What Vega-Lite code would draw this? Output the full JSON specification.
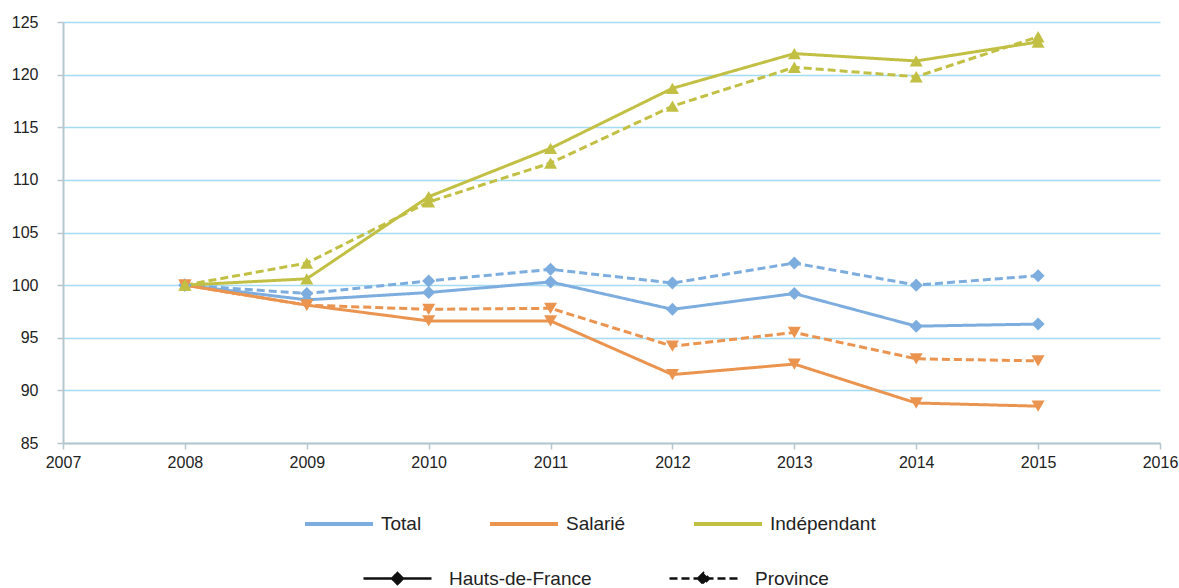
{
  "$schema": "https://vega.github.io/schema/vega-lite/v6.json",
  "width": 1097,
  "height": 421,
  "autosize": {"type": "none"},
  "padding": {"left": 63, "top": 22, "right": 19, "bottom": 145},
  "config": {
    "font": "Liberation Sans",
    "view": {"stroke": null},
    "legend": {"padding": 0}
  },
  "data": {
    "values": [
      {"annee": 2008, "serie": "Total", "zone": "Hauts-de-France", "indice": 100},
      {"annee": 2009, "serie": "Total", "zone": "Hauts-de-France", "indice": 98.6},
      {"annee": 2010, "serie": "Total", "zone": "Hauts-de-France", "indice": 99.3},
      {"annee": 2011, "serie": "Total", "zone": "Hauts-de-France", "indice": 100.3},
      {"annee": 2012, "serie": "Total", "zone": "Hauts-de-France", "indice": 97.7},
      {"annee": 2013, "serie": "Total", "zone": "Hauts-de-France", "indice": 99.2},
      {"annee": 2014, "serie": "Total", "zone": "Hauts-de-France", "indice": 96.1},
      {"annee": 2015, "serie": "Total", "zone": "Hauts-de-France", "indice": 96.3},
      {"annee": 2008, "serie": "Total", "zone": "Province", "indice": 100},
      {"annee": 2009, "serie": "Total", "zone": "Province", "indice": 99.2},
      {"annee": 2010, "serie": "Total", "zone": "Province", "indice": 100.4},
      {"annee": 2011, "serie": "Total", "zone": "Province", "indice": 101.5},
      {"annee": 2012, "serie": "Total", "zone": "Province", "indice": 100.2},
      {"annee": 2013, "serie": "Total", "zone": "Province", "indice": 102.1},
      {"annee": 2014, "serie": "Total", "zone": "Province", "indice": 100.0},
      {"annee": 2015, "serie": "Total", "zone": "Province", "indice": 100.9},
      {"annee": 2008, "serie": "Salarié", "zone": "Hauts-de-France", "indice": 100},
      {"annee": 2009, "serie": "Salarié", "zone": "Hauts-de-France", "indice": 98.1},
      {"annee": 2010, "serie": "Salarié", "zone": "Hauts-de-France", "indice": 96.6},
      {"annee": 2011, "serie": "Salarié", "zone": "Hauts-de-France", "indice": 96.6},
      {"annee": 2012, "serie": "Salarié", "zone": "Hauts-de-France", "indice": 91.5},
      {"annee": 2013, "serie": "Salarié", "zone": "Hauts-de-France", "indice": 92.5},
      {"annee": 2014, "serie": "Salarié", "zone": "Hauts-de-France", "indice": 88.8},
      {"annee": 2015, "serie": "Salarié", "zone": "Hauts-de-France", "indice": 88.5},
      {"annee": 2008, "serie": "Salarié", "zone": "Province", "indice": 100},
      {"annee": 2009, "serie": "Salarié", "zone": "Province", "indice": 98.1},
      {"annee": 2010, "serie": "Salarié", "zone": "Province", "indice": 97.7},
      {"annee": 2011, "serie": "Salarié", "zone": "Province", "indice": 97.8},
      {"annee": 2012, "serie": "Salarié", "zone": "Province", "indice": 94.2},
      {"annee": 2013, "serie": "Salarié", "zone": "Province", "indice": 95.5},
      {"annee": 2014, "serie": "Salarié", "zone": "Province", "indice": 93.0},
      {"annee": 2015, "serie": "Salarié", "zone": "Province", "indice": 92.8},
      {"annee": 2008, "serie": "Indépendant", "zone": "Hauts-de-France", "indice": 100},
      {"annee": 2009, "serie": "Indépendant", "zone": "Hauts-de-France", "indice": 100.6},
      {"annee": 2010, "serie": "Indépendant", "zone": "Hauts-de-France", "indice": 108.4},
      {"annee": 2011, "serie": "Indépendant", "zone": "Hauts-de-France", "indice": 113.0},
      {"annee": 2012, "serie": "Indépendant", "zone": "Hauts-de-France", "indice": 118.7},
      {"annee": 2013, "serie": "Indépendant", "zone": "Hauts-de-France", "indice": 122.0},
      {"annee": 2014, "serie": "Indépendant", "zone": "Hauts-de-France", "indice": 121.3},
      {"annee": 2015, "serie": "Indépendant", "zone": "Hauts-de-France", "indice": 123.1},
      {"annee": 2008, "serie": "Indépendant", "zone": "Province", "indice": 100},
      {"annee": 2009, "serie": "Indépendant", "zone": "Province", "indice": 102.1},
      {"annee": 2010, "serie": "Indépendant", "zone": "Province", "indice": 107.9},
      {"annee": 2011, "serie": "Indépendant", "zone": "Province", "indice": 111.6},
      {"annee": 2012, "serie": "Indépendant", "zone": "Province", "indice": 117.0},
      {"annee": 2013, "serie": "Indépendant", "zone": "Province", "indice": 120.7},
      {"annee": 2014, "serie": "Indépendant", "zone": "Province", "indice": 119.8},
      {"annee": 2015, "serie": "Indépendant", "zone": "Province", "indice": 123.6}
    ]
  },
  "encoding": {
    "x": {
      "field": "annee", "type": "quantitative",
      "scale": {"domain": [2007, 2016], "nice": false, "zero": false},
      "axis": {
        "title": null, "values": [2007, 2008, 2009, 2010, 2011, 2012, 2013, 2014, 2015, 2016],
        "format": "d", "grid": false, "domainColor": "#B7C6CE", "domainWidth": 2,
        "tickColor": "#B7C6CE", "tickSize": 6, "tickWidth": 1.5,
        "labelFontSize": 16, "labelColor": "#222222", "labelPadding": 5, "labelFlush": false
      }
    },
    "y": {
      "field": "indice", "type": "quantitative",
      "scale": {"domain": [85, 125], "nice": false, "zero": false},
      "axis": {
        "title": null, "values": [85, 90, 95, 100, 105, 110, 115, 120, 125],
        "grid": true, "gridColor": "#A3DCF3", "gridWidth": 1.5,
        "domainColor": "#B7C6CE", "domainWidth": 2,
        "tickColor": "#B7C6CE", "tickSize": 6, "tickWidth": 1.5,
        "labelFontSize": 16, "labelColor": "#222222", "labelPadding": 19
      }
    },
    "color": {
      "field": "serie", "type": "nominal",
      "scale": {"domain": ["Total", "Salarié", "Indépendant"], "range": ["#7DADDE", "#EA9450", "#C2C044"]},
      "legend": {
        "title": null, "orient": "none", "direction": "horizontal",
        "legendX": 240, "legendY": 466,
        "symbolType": "stroke", "symbolSize": 4624, "symbolStrokeWidth": 4,
        "labelFontSize": 19, "labelColor": "#222222", "labelOffset": 6,
        "columnPadding": 60
      }
    }
  },
  "layer": [
    {
      "mark": {"type": "line", "strokeWidth": 3},
      "encoding": {
        "strokeDash": {
          "field": "zone", "type": "nominal",
          "scale": {"domain": ["Hauts-de-France", "Province"], "range": [[1, 0], [8, 4]]},
          "legend": {
            "title": null, "orient": "none", "direction": "horizontal",
            "legendX": 299, "legendY": 521,
            "symbolType": "M-1,0L1,0M-0.16,0L0,-0.16L0.16,0L0,0.16Z",
            "symbolSize": 4624, "symbolStrokeWidth": 2.5,
            "symbolStrokeColor": "#111111", "symbolFillColor": "#111111",
            "labelFontSize": 19, "labelColor": "#222222", "labelOffset": 16,
            "columnPadding": 72
          }
        },
        "detail": {"field": "zone"}
      }
    },
    {
      "transform": [{"filter": "datum.serie === 'Total'"}],
      "mark": {"type": "point", "filled": true, "opacity": 1, "size": 170, "shape": "diamond"},
      "encoding": {}
    },
    {
      "transform": [{"filter": "datum.serie === 'Salarié'"}],
      "mark": {"type": "point", "filled": true, "opacity": 1, "size": 170, "shape": "triangle-down"},
      "encoding": {}
    },
    {
      "transform": [{"filter": "datum.serie === 'Indépendant'"}],
      "mark": {"type": "point", "filled": true, "opacity": 1, "size": 170, "shape": "triangle-up"},
      "encoding": {}
    }
  ]
}
